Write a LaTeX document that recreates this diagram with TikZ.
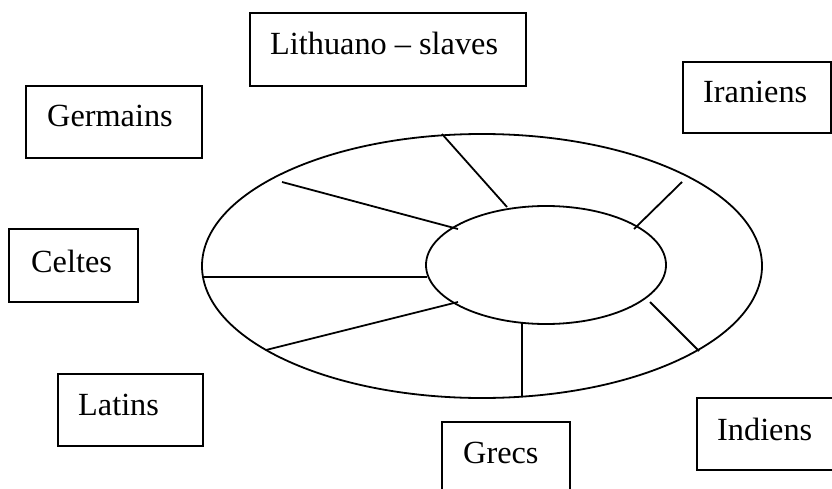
\documentclass[tikz,border=0pt]{standalone}
\usepackage{fontspec}
\setmainfont{Liberation Serif}
\usetikzlibrary{shapes.geometric}
\begin{document}
\begin{tikzpicture}[x=1pt,y=-1pt,
  box/.style={draw,line width=1.8pt,rectangle,inner sep=0pt},
  lbl/.style={anchor=base west,inner sep=0pt,font=\fontsize{32.3}{38}\selectfont},
  ring/.style={draw,line width=1.8pt,ellipse,inner sep=0pt},
  spoke/.style={line width=1.8pt}]
\useasboundingbox (0,0) rectangle (832,489);
\clip (0,0) rectangle (832,489);
\fill[white] (0,0) rectangle (832,489);
% boxes
\node[box,minimum width=276pt,minimum height=73pt] (blit) at (388,49.5) {};
\node[box,minimum width=148pt,minimum height=71pt] (bira) at (757,97.5) {};
\node[box,minimum width=176pt,minimum height=72pt] (bger) at (114,122) {};
\node[box,minimum width=129pt,minimum height=73pt] (bcel) at (73.5,265.5) {};
\node[box,minimum width=145pt,minimum height=72pt] (blat) at (130.5,410) {};
\node[box,minimum width=128pt,minimum height=100pt] (bgre) at (506,472) {};
\node[box,minimum width=160pt,minimum height=72pt] (bind) at (777,434) {};
% labels
\node[lbl] (tlit) at (270,55) {Lithuano – slaves};
\node[lbl] (tira) at (703,103) {Iraniens};
\node[lbl] (tger) at (47,127) {Germains};
\node[lbl] (tcel) at (31,272) {Celtes};
\node[lbl] (tlat) at (78,415) {Latins};
\node[lbl] (tgre) at (463,463) {Grecs};
\node[lbl] (tind) at (717,440) {Indiens};
% ellipses
\node[ring,minimum width=560pt,minimum height=264pt] (outer) at (482,266) {};
\node[ring,minimum width=240pt,minimum height=118pt] (inner) at (546,265) {};
% spoke ends
\coordinate (o1) at (442,134); \coordinate (i1) at (507,207);
\coordinate (o2) at (682,182); \coordinate (i2) at (634,229);
\coordinate (o3) at (699,351); \coordinate (i3) at (650,302);
\coordinate (o4) at (522,397); \coordinate (i4) at (522,323);
\coordinate (o5) at (266,350); \coordinate (i5) at (458,302);
\coordinate (o6) at (202,277); \coordinate (i6) at (427,277);
\coordinate (o7) at (282,182); \coordinate (i7) at (458,229);
\foreach \k in {1,...,7} {\draw[spoke] (o\k) -- (i\k);}
\end{tikzpicture}
\end{document}
